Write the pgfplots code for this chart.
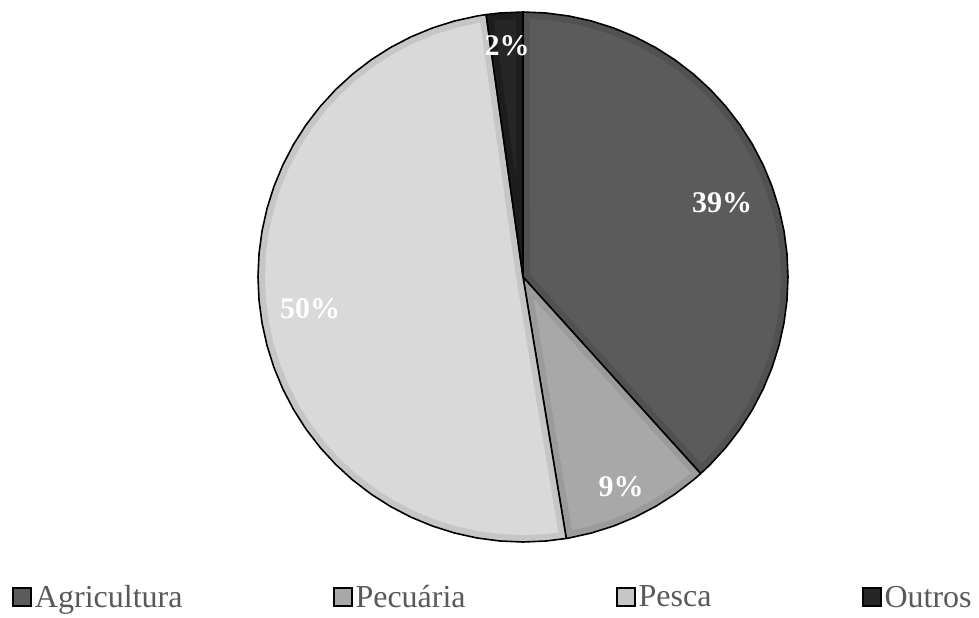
\documentclass[border=0pt]{standalone}
\usepackage{pgfplots}
\pgfplotsset{compat=1.18}
\usepackage{fontspec}
\setmainfont{Liberation Serif}
\definecolor{agri}{HTML}{5B5B5B}
\definecolor{agriB}{HTML}{515151}
\definecolor{pec}{HTML}{A8A8A8}
\definecolor{pecB}{HTML}{9B9B9B}
\definecolor{pes}{HTML}{D9D9D9}
\definecolor{pesB}{HTML}{C6C6C6}
\definecolor{out}{HTML}{262626}
\definecolor{outB}{HTML}{1D1D1D}
\definecolor{legtext}{HTML}{595959}
\begin{document}
\begin{tikzpicture}
\begin{axis}[
  x=0.5pt, y=0.5pt,
  xmin=-523, xmax=456, ymin=-340, ymax=277,
  enlargelimits=false,
  hide axis,
  clip=false,
  legend columns=4,
  legend style={draw=none, fill=none, inner sep=0pt, outer sep=0pt,
    at={(axis cs:-511,-321)}, anchor=west,
    nodes={inner sep=0pt, text=legtext, font=\fontsize{16}{19}\selectfont},
    /tikz/every odd column/.append style={column sep=1.5pt},
    /tikz/every even column/.append style={column sep=75pt}},
  legend image code/.code={\draw[#1,draw=black,line width=1pt] (0pt,-4.2pt) rectangle (9pt,4.8pt);},
]
% shares (percent): Agricultura 38.3, Pecuaria 9.1, Pesca 50.4, Outros 2.2
% boundary angles (deg, clockwise from top): 90, -47.9, -80.6, -262.0, -270
% --- Agricultura ---
\addplot[forget plot, data cs=polar, fill=agriB, draw=black, line width=0.8pt, line join=round]
 coordinates {(0,0) (90,265) (85,265) (80,265) (75,265) (70,265) (65,265) (60,265) (55,265) (50,265) (45,265) (40,265) (35,265) (30,265) (25,265) (20,265) (15,265) (10,265) (5,265) (0,265) (-5,265) (-10,265) (-15,265) (-20,265) (-25,265) (-30,265) (-35,265) (-40,265) (-45,265) (-47.9,265) (0,0)} -- cycle;
\addplot[forget plot, data cs=polar, fill=agri, draw=none]
 coordinates {(21.05,7.5) (88.45,258) (85,258) (80,258) (75,258) (70,258) (65,258) (60,258) (55,258) (50,258) (45,258) (40,258) (35,258) (30,258) (25,258) (20,258) (15,258) (10,258) (5,258) (0,258) (-5,258) (-10,258) (-15,258) (-20,258) (-25,258) (-30,258) (-35,258) (-40,258) (-45,258) (-46.35,258) (21.05,7.5)} -- cycle;
% --- Pecuaria ---
\addplot[forget plot, data cs=polar, fill=pecB, draw=black, line width=0.8pt, line join=round]
 coordinates {(0,0) (-47.9,265) (-50,265) (-55,265) (-60,265) (-65,265) (-70,265) (-75,265) (-80,265) (-80.6,265) (0,0)} -- cycle;
\addplot[forget plot, data cs=polar, fill=pec, draw=none]
 coordinates {(-64.25,24.9) (-49.45,258) (-50,258) (-55,258) (-60,258) (-65,258) (-70,258) (-75,258) (-79.05,258) (-64.25,24.9)} -- cycle;
% --- Pesca ---
\addplot[forget plot, data cs=polar, fill=pesB, draw=black, line width=0.8pt, line join=round]
 coordinates {(0,0) (-80.6,265) (-85,265) (-90,265) (-95,265) (-100,265) (-105,265) (-110,265) (-115,265) (-120,265) (-125,265) (-130,265) (-135,265) (-140,265) (-145,265) (-150,265) (-155,265) (-160,265) (-165,265) (-170,265) (-175,265) (-180,265) (-185,265) (-190,265) (-195,265) (-200,265) (-205,265) (-210,265) (-215,265) (-220,265) (-225,265) (-230,265) (-235,265) (-240,265) (-245,265) (-250,265) (-255,265) (-260,265) (-262,265) (0,0)} -- cycle;
\addplot[forget plot, data cs=polar, fill=pes, draw=none]
 coordinates {(-171.3,7) (-82.15,258) (-85,258) (-90,258) (-95,258) (-100,258) (-105,258) (-110,258) (-115,258) (-120,258) (-125,258) (-130,258) (-135,258) (-140,258) (-145,258) (-150,258) (-155,258) (-160,258) (-165,258) (-170,258) (-175,258) (-180,258) (-185,258) (-190,258) (-195,258) (-200,258) (-205,258) (-210,258) (-215,258) (-220,258) (-225,258) (-230,258) (-235,258) (-240,258) (-245,258) (-250,258) (-255,258) (-260.45,258) (-171.3,7)} -- cycle;
% --- Outros ---
\addplot[forget plot, data cs=polar, fill=outB, draw=black, line width=0.8pt, line join=round]
 coordinates {(0,0) (-262,265) (-265,265) (-270,265) (0,0)} -- cycle;
\addplot[forget plot, data cs=polar, fill=out, draw=none]
 coordinates {(-266,100.3) (-263.55,258) (-265,258) (-268.45,258) (-266,100.3)} -- cycle;
% labels
\node[text=white, font=\fontsize{15}{18}\selectfont\bfseries] at (axis cs:199,74) {39\%};
\node[text=white, font=\fontsize{15}{18}\selectfont\bfseries] at (axis cs:98,-210) {9\%};
\node[text=white, font=\fontsize{15}{18}\selectfont\bfseries] at (axis cs:-213,-32) {50\%};
\node[text=white, font=\fontsize{15}{18}\selectfont\bfseries] at (axis cs:-16,231) {2\%};
% legend
\addlegendimage{fill=agri}\addlegendentry{Agricultura}
\addlegendimage{fill=pec}\addlegendentry{Pecuária}
\addlegendimage{fill=pesB}\addlegendentry{Pesca}
\addlegendimage{fill=out}\addlegendentry{Outros}
\path (rel axis cs:0,0) rectangle (rel axis cs:1,1);
\end{axis}
\end{tikzpicture}
\end{document}
